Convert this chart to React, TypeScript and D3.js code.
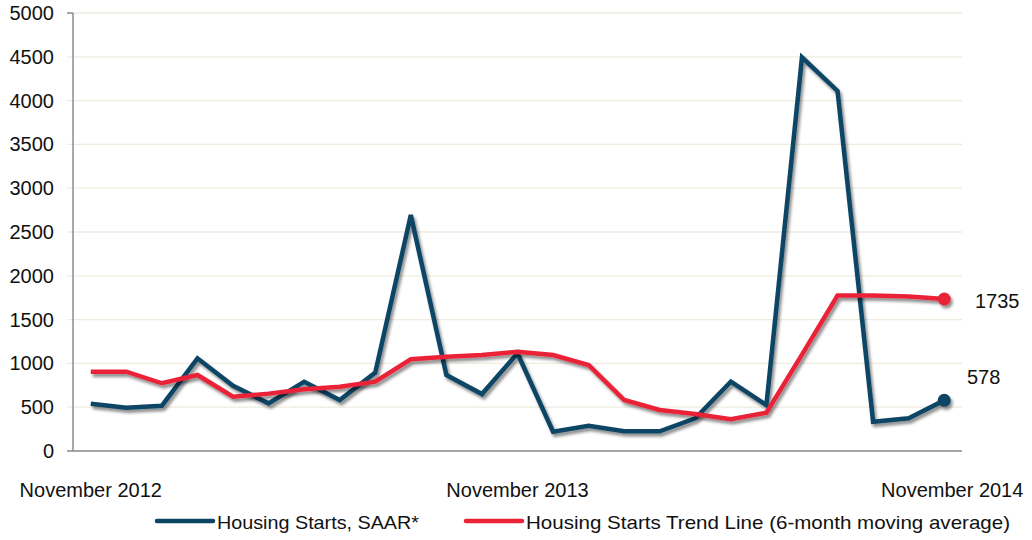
import React, { useEffect, useRef } from 'react';
import * as d3 from 'd3';

// Months Nov 2012 .. Nov 2014
const months: string[] = d3.range(25).map(i => d3.timeFormat('%Y-%m')(new Date(2012, 10 + i, 1)));
const xTickLabels: { index: number; label: string }[] = [
    { index: 0, label: 'November 2012' },
    { index: 12, label: 'November 2013' },
    { index: 24, label: 'November 2014' },
];

const housingStarts: number[] = [
    540, 495, 517, 1058, 745, 544, 790, 582, 895, 2694, 868, 650, 1115,
    220, 289, 225, 225, 373, 791, 525, 4494, 4110, 334, 373, 578,
];
const trendLine: number[] = [
    905, 905, 773, 868, 620, 655, 704, 734, 791, 1047, 1077, 1096, 1133,
    1096, 982, 582, 468, 422, 362, 437, 1100, 1775, 1775, 1765, 1735,
];
const yTicks: number[] = d3.range(0, 5001, 500);

const NAVY = '#0c4465';
const RED = '#ea2338';

export default function App() {
    const svgRef = useRef<SVGSVGElement>(null);

    useEffect(() => {
        if (!svgRef.current) return;
        const svg = d3.select(svgRef.current);
        svg.selectAll('*').remove();

        const width = 1032;
        const height = 540;
        const margin = { top: 13, right: 70, bottom: 89, left: 73 };
        const font = "'Liberation Sans', Arial, sans-serif";

        const x = d3.scaleBand<string>()
            .domain(months)
            .range([margin.left, width - margin.right]);
        const cx = (i: number) => (x(months[i]) as number) + x.bandwidth() / 2;

        const y = d3.scaleLinear()
            .domain([0, 5000])
            .range([height - margin.bottom, margin.top]);

        // drop shadow
        const defs = svg.append('defs');
        const f = defs.append('filter').attr('id', 'shadow')
            .attr('x', '-10%').attr('y', '-10%').attr('width', '120%').attr('height', '120%');
        f.append('feDropShadow')
            .attr('dx', 2).attr('dy', 3).attr('stdDeviation', 1.8)
            .attr('flood-color', '#000').attr('flood-opacity', 0.45);

        // gridlines
        svg.append('g').selectAll('line')
            .data(yTicks)
            .join('line')
            .attr('x1', margin.left - 6)
            .attr('x2', width - margin.right)
            .attr('y1', d => y(d))
            .attr('y2', d => y(d))
            .attr('stroke', '#efebdf')
            .attr('stroke-width', 1.3);

        // axes lines
        svg.append('line')
            .attr('x1', margin.left).attr('x2', margin.left)
            .attr('y1', y(5000)).attr('y2', y(0))
            .attr('stroke', '#8c8c8c').attr('stroke-width', 1.5);
        svg.append('line')
            .attr('x1', margin.left - 6).attr('x2', width - margin.right)
            .attr('y1', y(0)).attr('y2', y(0))
            .attr('stroke', '#8c8c8c').attr('stroke-width', 1.5);
        svg.append('line')
            .attr('x1', margin.left - 6).attr('x2', margin.left)
            .attr('y1', y(5000)).attr('y2', y(5000))
            .attr('stroke', '#8c8c8c').attr('stroke-width', 1.5);

        // y labels
        svg.append('g').selectAll('text')
            .data(yTicks)
            .join('text')
            .attr('x', 54)
            .attr('y', d => y(d) + 7)
            .attr('text-anchor', 'end')
            .attr('font-family', font)
            .attr('font-size', 20)
            .attr('fill', '#111')
            .text(d => d);

        // x labels
        svg.append('g').selectAll('text')
            .data(xTickLabels)
            .join('text')
            .attr('x', d => cx(d.index) + (d.index === 24 ? 8 : 0))
            .attr('y', 497)
            .attr('text-anchor', 'middle')
            .attr('font-family', font)
            .attr('font-size', 20)
            .attr('fill', '#111')
            .text(d => d.label);

        const line = d3.line<number>()
            .x((_, i) => cx(i))
            .y(d => y(d));

        const series = [
            { values: housingStarts, color: NAVY },
            { values: trendLine, color: RED },
        ];

        series.forEach(s => {
            const g = svg.append('g').attr('filter', 'url(#shadow)');
            g.append('path')
                .datum(s.values)
                .attr('d', line)
                .attr('fill', 'none')
                .attr('stroke', s.color)
                .attr('stroke-width', 4.5)
                .attr('stroke-linejoin', 'miter');
            g.append('circle')
                .attr('cx', cx(s.values.length - 1))
                .attr('cy', y(s.values[s.values.length - 1]))
                .attr('r', 6.5)
                .attr('fill', s.color);
        });

        // end labels
        svg.append('text')
            .attr('x', 975).attr('y', 308)
            .attr('font-family', font).attr('font-size', 20).attr('fill', '#111')
            .text(trendLine[trendLine.length - 1]);
        svg.append('text')
            .attr('x', 967).attr('y', 384)
            .attr('font-family', font).attr('font-size', 20).attr('fill', '#111')
            .text(housingStarts[housingStarts.length - 1]);

        // legend
        const legend = [
            { label: 'Housing Starts, SAAR*', color: NAVY, x: 157, w: 202 },
            { label: 'Housing Starts Trend Line (6-month moving average)', color: RED, x: 466, w: 484 },
        ];
        legend.forEach(l => {
            svg.append('line')
                .attr('x1', l.x).attr('x2', l.x + 56)
                .attr('y1', 521).attr('y2', 521)
                .attr('stroke', l.color).attr('stroke-width', 4.5)
                .attr('stroke-linecap', 'round');
            svg.append('text')
                .attr('x', l.x + 60).attr('y', 529)
                .attr('font-family', font).attr('font-size', 19).attr('fill', '#111')
                .attr('textLength', l.w).attr('lengthAdjust', 'spacingAndGlyphs')
                .text(l.label);
        });
    }, []);

    return <svg ref={svgRef} width={1032} height={540} style={{ position: 'absolute', left: 0, top: 0, background: '#fff' }} />;
}
